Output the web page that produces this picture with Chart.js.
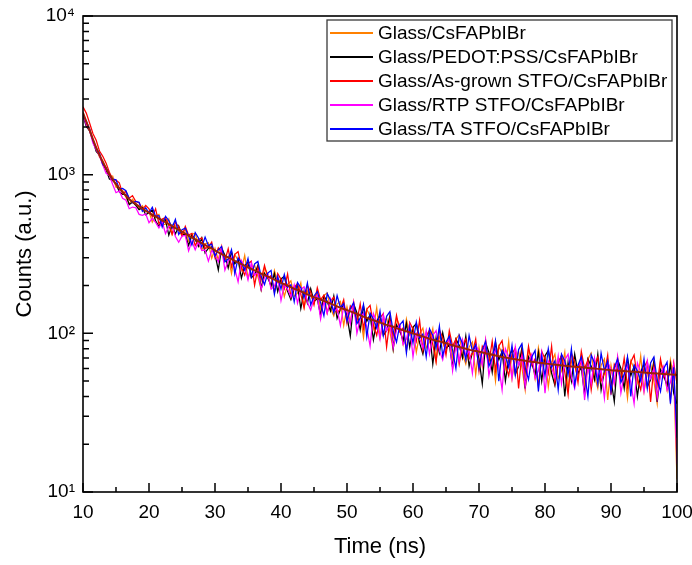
<!DOCTYPE html>
<html>
<head>
<meta charset="utf-8">
<script src="https://cdn.jsdelivr.net/npm/chart.js@4/dist/chart.umd.min.js"></script>
<style>
html,body{margin:0;padding:0;background:#fff;}
#wrap{width:692px;height:565px;position:relative;}
</style>
</head>
<body>
<div id="wrap"><canvas id="c" width="692" height="565"></canvas></div>
<script>
// ---- data ----
const time = [
10,10.5,11,11.5,12,12.5,13,13.5,14,14.5,
15,15.5,16,16.5,17,17.5,18,18.5,19,19.5,
20,20.5,21,21.5,22,22.5,23,23.5,24,24.5,
25,25.5,26,26.5,27,27.5,28,28.5,29,29.5,
30,30.5,31,31.5,32,32.5,33,33.5,34,34.5,
35,35.5,36,36.5,37,37.5,38,38.5,39,39.5,
40,40.5,41,41.5,42,42.5,43,43.5,44,44.5,
45,45.5,46,46.5,47,47.5,48,48.5,49,49.5,
50,50.5,51,51.5,52,52.5,53,53.5,54,54.5,
55,55.5,56,56.5,57,57.5,58,58.5,59,59.5,
60,60.5,61,61.5,62,62.5,63,63.5,64,64.5,
65,65.5,66,66.5,67,67.5,68,68.5,69,69.5,
70,70.5,71,71.5,72,72.5,73,73.5,74,74.5,
75,75.5,76,76.5,77,77.5,78,78.5,79,79.5,
80,80.5,81,81.5,82,82.5,83,83.5,84,84.5,
85,85.5,86,86.5,87,87.5,88,88.5,89,89.5,
90,90.5,91,91.5,92,92.5,93,93.5,94,94.5,
95,95.5,96,96.5,97,97.5,98,98.5,99,99.5,
100];

const glassCounts = [
2477,2120,1951,1666,1483,1287,1224,1103,984,980,
832,822,795,722,655,700,660,606,637,588,
587,502,549,562,482,488,527,419,475,449,
414,455,381,422,426,365,336,367,372,297,
343,290,356,295,306,238,313,289,250,310,
223,255,269,228,188,259,235,195,249,209,
221,170,203,214,171,179,208,146,184,173,
155,185,143,173,180,144,129,153,159,112,
147,117,159,124,133,94,142,128,107,145,
94,115,125,102,79,125,111,86,123,98,
109,76,99,108,81,88,107,67,95,88,
77,98,70,92,98,74,64,82,88,55,
82,62,91,69,75,50,83,75,60,89,
52,69,77,61,44,79,70,52,81,63,
72,46,66,74,52,58,76,43,67,62,
53,73,48,69,75,54,45,63,69,38,
63,48,71,54,59,39,67,60,49,72,
43,56,64,50,36,66,58,44,68,53,
12];

const pedotCounts = [
2353,2016,1886,1639,1402,1329,1161,1076,940,919,
879,780,750,750,646,672,640,602,619,558,
578,598,512,472,515,520,416,479,422,475,
417,421,357,418,391,353,399,321,344,351,
314,251,344,311,258,328,274,292,223,266,
280,224,234,269,190,239,223,200,238,183,
220,229,184,163,193,201,143,185,155,191,
159,165,130,172,159,138,172,124,142,150,
129,96,153,135,105,149,119,131,91,119,
130,97,104,129,80,113,104,90,116,82,
109,115,87,74,96,103,64,94,75,101,
80,85,61,92,84,70,96,62,76,84,
69,48,87,76,57,88,68,77,50,70,
79,55,62,81,45,71,65,55,76,50,
72,78,56,47,65,72,40,66,50,74,
56,61,41,69,62,51,74,44,58,65,
51,37,68,60,45,70,54,62,40,57,
64,46,51,67,37,59,54,47,64,42,
36];

const asGrownCounts = [
2677,2444,2115,1817,1646,1408,1305,1182,1037,936,
924,889,762,784,711,738,677,666,603,640,
610,542,610,491,525,537,478,421,503,467,
411,473,416,427,357,391,400,343,349,376,
300,346,322,288,341,262,315,327,261,233,
275,285,201,260,218,268,223,231,181,238,
219,191,237,170,195,206,176,145,200,182,
151,194,163,174,134,160,169,135,142,163,
116,149,138,119,153,107,142,150,113,97,
125,133,82,122,96,130,102,108,78,117,
106,89,121,78,96,105,85,66,105,94,
73,104,83,92,64,84,92,69,75,92,
58,83,76,65,89,58,83,90,64,54,
74,81,45,75,56,83,63,69,46,77,
69,56,83,49,64,73,57,41,75,66,
49,77,60,68,44,63,71,50,56,73,
41,64,59,51,70,46,66,73,52,44,
61,67,37,62,47,69,53,58,38,65,
48];

const rtpCounts = [
2396,2064,1903,1585,1435,1314,1152,1021,990,867,
770,790,710,691,610,625,619,562,554,566,
498,531,500,462,507,425,471,476,408,375,
410,414,331,381,336,378,332,335,285,333,
312,282,348,250,286,301,255,211,288,262,
217,277,232,246,189,225,237,190,198,228,
161,203,190,170,202,155,189,196,157,140,
166,173,123,159,134,165,137,143,112,148,
137,115,156,100,124,134,109,83,133,118,
92,131,104,116,81,105,114,85,92,113,
71,100,93,81,104,74,97,104,78,68,
87,92,58,85,67,91,72,78,56,84,
77,63,91,54,70,79,62,44,80,71,
52,82,63,72,46,66,74,52,58,76,
42,67,61,52,72,48,68,74,53,45,
62,68,38,63,48,70,53,59,39,66,
59,48,71,42,55,63,49,36,65,57,
43,67,52,60,39,55,62,44,49,64,
15];

const taCounts = [
2379,2169,1939,1645,1467,1366,1160,1106,1000,936,
928,814,819,792,707,665,679,669,587,619,
573,623,546,551,468,547,513,464,522,420,
450,460,409,360,431,399,351,404,357,365,
307,336,353,282,294,337,237,299,278,250,
296,228,274,284,228,203,240,249,176,228,
190,235,195,202,158,209,194,168,208,151,
172,183,156,129,178,162,135,173,145,154,
119,143,156,115,125,152,95,134,123,108,
138,97,128,137,103,88,113,120,75,110,
87,118,93,99,71,107,97,81,111,72,
88,96,78,60,97,86,68,97,77,85,
60,79,89,62,70,90,50,78,72,61,
84,55,79,86,61,51,71,78,43,72,
54,80,61,67,44,74,67,55,80,47,
63,71,56,40,73,65,48,75,58,67,
43,61,69,49,55,71,40,63,58,50,
69,45,65,71,51,43,60,66,36,61,
22];

const fitTime = [
10,11,12,13,14,15,16,17,18,19,20,21,22,23,24,25,26,27,28,29,
30,31,32,33,34,35,36,37,38,39,40,41,42,43,44,45,46,47,48,49,
50,51,52,53,54,55,56,57,58,59,60,61,62,63,64,65,66,67,68,69,
70,71,72,73,74,75,76,77,78,79,80,81,82,83,84,85,86,87,88,89,
90,91,92,93,94,95,96,97,98,99,100];

const fitCounts = [
2455,1905,1479,1202,1000,871,776,700,653,610,575,544,515,488,461,437,413,391,370,351,
333,316,301,286,273,261,249,238,228,218,208,200,191,184,176,169,163,157,151,145,
140,135,130,125,121,117,113,110,106,103,100,97,94,91,89,86.5,84,82,80,78,
76.6,74.8,73.3,71.8,70.3,69.2,68.1,67.1,66.2,65.3,64.6,63.8,63.1,62.5,61.9,61.4,60.8,60.3,59.7,59.2,
58.6,58.2,57.8,57.4,57,56.6,56.2,55.8,55.5,55.1,54.7];

const seriesLabels = [
  'Glass/CsFAPbIBr',
  'Glass/PEDOT:PSS/CsFAPbIBr',
  'Glass/As-grown STFO/CsFAPbIBr',
  'Glass/RTP STFO/CsFAPbIBr',
  'Glass/TA STFO/CsFAPbIBr'
];
const seriesColors = ['#FF8000', '#000000', '#FF0000', '#FF00FF', '#0000FF'];
const xTicks = [10,20,30,40,50,60,70,80,90,100];
const yDecades = [10,100,1000,10000];
const yTickLabels = ['10\u00B9','10\u00B2','10\u00B3','10\u2074'];
const xTitle = 'Time (ns)';
const yTitle = 'Counts (a.u.)';

// ---- chart ----
const FONT = "'Liberation Sans', Arial, Helvetica, sans-serif";
const seriesValues = [glassCounts, pedotCounts, asGrownCounts, rtpCounts, taCounts];

const datasets = seriesLabels.map((lab, s) => ({
  label: lab,
  data: time.map((t, i) => ({x: t, y: seriesValues[s][i]})),
  borderColor: seriesColors[s],
  backgroundColor: seriesColors[s],
  borderWidth: 1.25,
  pointRadius: 0,
  fill: false,
  tension: 0,
  order: 5 - s
}));
datasets.push({
  label: 'fit',
  data: fitTime.map((t, i) => ({x: t, y: fitCounts[i]})),
  borderColor: '#9b2008',
  borderWidth: 2,
  pointRadius: 0,
  fill: false,
  cubicInterpolationMode: 'monotone',
  order: 0
});

const overlay = {
  id: 'overlay',
  afterDatasetsDraw(chart) {
    const {ctx, chartArea: a, scales} = chart;
    const xs = scales.x, ys = scales.y;
    ctx.save();
    ctx.strokeStyle = '#000';
    ctx.lineWidth = 1.5;
    ctx.beginPath();
    xTicks.forEach((v, i) => {
      const px = xs.getPixelForValue(v);
      ctx.moveTo(px, a.bottom); ctx.lineTo(px, a.bottom - 9);
      if (i < xTicks.length - 1) {
        const pm = xs.getPixelForValue((v + xTicks[i + 1]) / 2);
        ctx.moveTo(pm, a.bottom); ctx.lineTo(pm, a.bottom - 5);
      }
    });
    yDecades.forEach((d, i) => {
      const py = ys.getPixelForValue(d);
      ctx.moveTo(a.left, py); ctx.lineTo(a.left + 10, py);
      if (i < yDecades.length - 1) {
        for (let m = 2; m <= 9; m++) {
          const pm = ys.getPixelForValue(d * m);
          ctx.moveTo(a.left, pm); ctx.lineTo(a.left + 6, pm);
        }
      }
    });
    ctx.stroke();
    ctx.lineWidth = 1.6;
    ctx.strokeRect(a.left, a.top, a.right - a.left, a.bottom - a.top);

    // legend box
    const bw = 345, bh = 121;
    const bx = a.right - 5 - bw, by = a.top + 4;
    ctx.fillStyle = '#fff';
    ctx.fillRect(bx, by, bw, bh);
    ctx.strokeStyle = '#3a3a3a';
    ctx.lineWidth = 1.3;
    ctx.strokeRect(bx, by, bw, bh);
    ctx.font = '19px ' + FONT;
    ctx.textBaseline = 'middle';
    ctx.textAlign = 'left';
    seriesLabels.forEach((lab, s) => {
      const yy = by + 13 + s * 24;
      ctx.strokeStyle = seriesColors[s];
      ctx.lineWidth = 2;
      ctx.beginPath();
      ctx.moveTo(bx + 3, yy); ctx.lineTo(bx + 46, yy);
      ctx.stroke();
      ctx.fillStyle = '#000';
      ctx.fillText(lab, bx + 51, yy + 1);
    });
    ctx.restore();
  }
};

new Chart(document.getElementById('c'), {
  type: 'line',
  data: {datasets},
  options: {
    responsive: false,
    animation: false,
    devicePixelRatio: 1,
    layout: {padding: {top: 16, right: 15, left: 0, bottom: 0}},
    plugins: {legend: {display: false}, tooltip: {enabled: false}},
    scales: {
      x: {
        type: 'linear', min: 10, max: 100,
        afterBuildTicks: s => { s.ticks = xTicks.map(v => ({value: v})); },
        afterFit: s => { s.height = 73; s.paddingLeft = 0; s.paddingRight = 0; },
        grid: {display: false, drawTicks: false},
        border: {display: false},
        ticks: {color: '#000', font: {family: FONT, size: 19}, padding: 9, maxRotation: 0, autoSkip: false},
        title: {display: true, text: xTitle, color: '#000', font: {family: FONT, size: 22}, padding: {top: 0, bottom: 5}}
      },
      y: {
        type: 'logarithmic', min: 10, max: 10000,
        afterBuildTicks: s => { s.ticks = yDecades.map(v => ({value: v})); },
        afterFit: s => { s.width = 83; s.paddingTop = 0; s.paddingBottom = 0; },
        grid: {display: false, drawTicks: false},
        border: {display: false},
        ticks: {color: '#000', font: {family: FONT, size: 19}, padding: 8, autoSkip: false,
                callback: (v, i) => yTickLabels[i]},
        title: {display: true, text: yTitle, color: '#000', font: {family: FONT, size: 22}, padding: {top: 12, bottom: 0}}
      }
    }
  },
  plugins: [overlay]
});
</script>
</body>
</html>
